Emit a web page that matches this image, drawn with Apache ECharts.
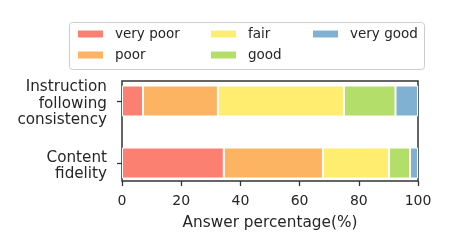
<!DOCTYPE html>
<html>
<head>
<meta charset="utf-8">
<script src="https://cdn.jsdelivr.net/npm/echarts@6/dist/echarts.min.js"></script>
<style>html,body{margin:0;padding:0;background:#fff}#c{width:450px;height:250px}</style>
</head>
<body>
<div id="c"></div>
<script>
var categories = ['Content\nfidelity', 'Instruction\nfollowing\nconsistency'];
var seriesNames = ['very poor', 'poor', 'fair', 'good', 'very good'];
var veryPoor = [34.4, 7.1];
var poor = [33.5, 25.3];
var fair = [22.3, 42.6];
var good = [7.1, 17.4];
var veryGood = [2.7, 7.6];
var xTicks = [0, 20, 40, 60, 80, 100];
var colors = ['#fb8072', '#fdb462', '#ffed6f', '#b3de69', '#80b1d3'];
var values = [veryPoor, poor, fair, good, veryGood];

var FONT = 'DejaVu Sans';
var TXT = '#262626';
var chart = echarts.init(document.getElementById('c'), null, {renderer: 'canvas'});

function legendCol(names, left) {
  return {
    orient: 'vertical', left: left, top: 27, padding: 0,
    itemWidth: 27, itemHeight: 9, itemGap: 7, icon: 'rect',
    data: names, selectedMode: false,
    textStyle: {fontFamily: FONT, fontSize: 13.5, color: TXT, lineHeight: 14, padding: [0, 0, 0, 6]}
  };
}

var option = {
  animation: false,
  color: colors,
  graphic: [{
    type: 'rect', z: 0,
    shape: {x: 69.5, y: 22.5, width: 355, height: 47, r: 3},
    style: {fill: '#fff', stroke: '#cccccc', lineWidth: 1}
  }],
  legend: [
    legendCol([seriesNames[0], seriesNames[1]], 76),
    legendCol([seriesNames[2], seriesNames[3]], 209),
    legendCol([seriesNames[4]], 311)
  ],
  grid: [
    {left: 122, right: 32, top: 70, bottom: 56},
    {left: 122, right: 32, top: 81, bottom: 69, show: true, borderColor: '#333', borderWidth: 1.5, backgroundColor: 'transparent'},
    {left: 122, right: 32, top: 73, bottom: 53}
  ],
  xAxis: [
    {type: 'value', gridIndex: 0, min: 0, max: 100, show: false},
    {type: 'value', gridIndex: 1, min: 0, max: 100, interval: 20,
     axisLine: {show: false}, splitLine: {show: false},
     axisTick: {show: true, length: 5, lineStyle: {color: '#333', width: 1.3}},
     axisLabel: {margin: 13, fontFamily: FONT, fontSize: 14, color: TXT,
       formatter: function (v) { return xTicks.indexOf(v) >= 0 ? String(v) : ''; }},
     name: 'Answer percentage(%)', nameLocation: 'middle', nameGap: 35,
     nameTextStyle: {fontFamily: FONT, fontSize: 15.3, color: TXT}},
    {type: 'value', gridIndex: 2, min: 0, max: 100, show: false}
  ],
  yAxis: [
    {type: 'category', gridIndex: 0, data: categories,
     axisLine: {show: false},
     axisTick: {show: true, length: 5, alignWithLabel: true, lineStyle: {color: '#333', width: 1.3}},
     axisLabel: {show: false}},
    {type: 'value', gridIndex: 1, show: false},
    {type: 'category', gridIndex: 2, data: categories,
     axisLine: {show: false}, axisTick: {show: false}, splitLine: {show: false},
     axisLabel: {margin: 15, fontFamily: FONT, fontSize: 15.2, color: TXT, lineHeight: 16.5, align: 'right'}}
  ],
  series: values.map(function (d, i) {
    return {
      name: seriesNames[i], type: 'bar', stack: 'total',
      xAxisIndex: 0, yAxisIndex: 0, barWidth: 31,
      itemStyle: {color: colors[i], borderColor: '#fff', borderWidth: 1},
      data: d
    };
  })
};
chart.setOption(option);
</script>
</body>
</html>
